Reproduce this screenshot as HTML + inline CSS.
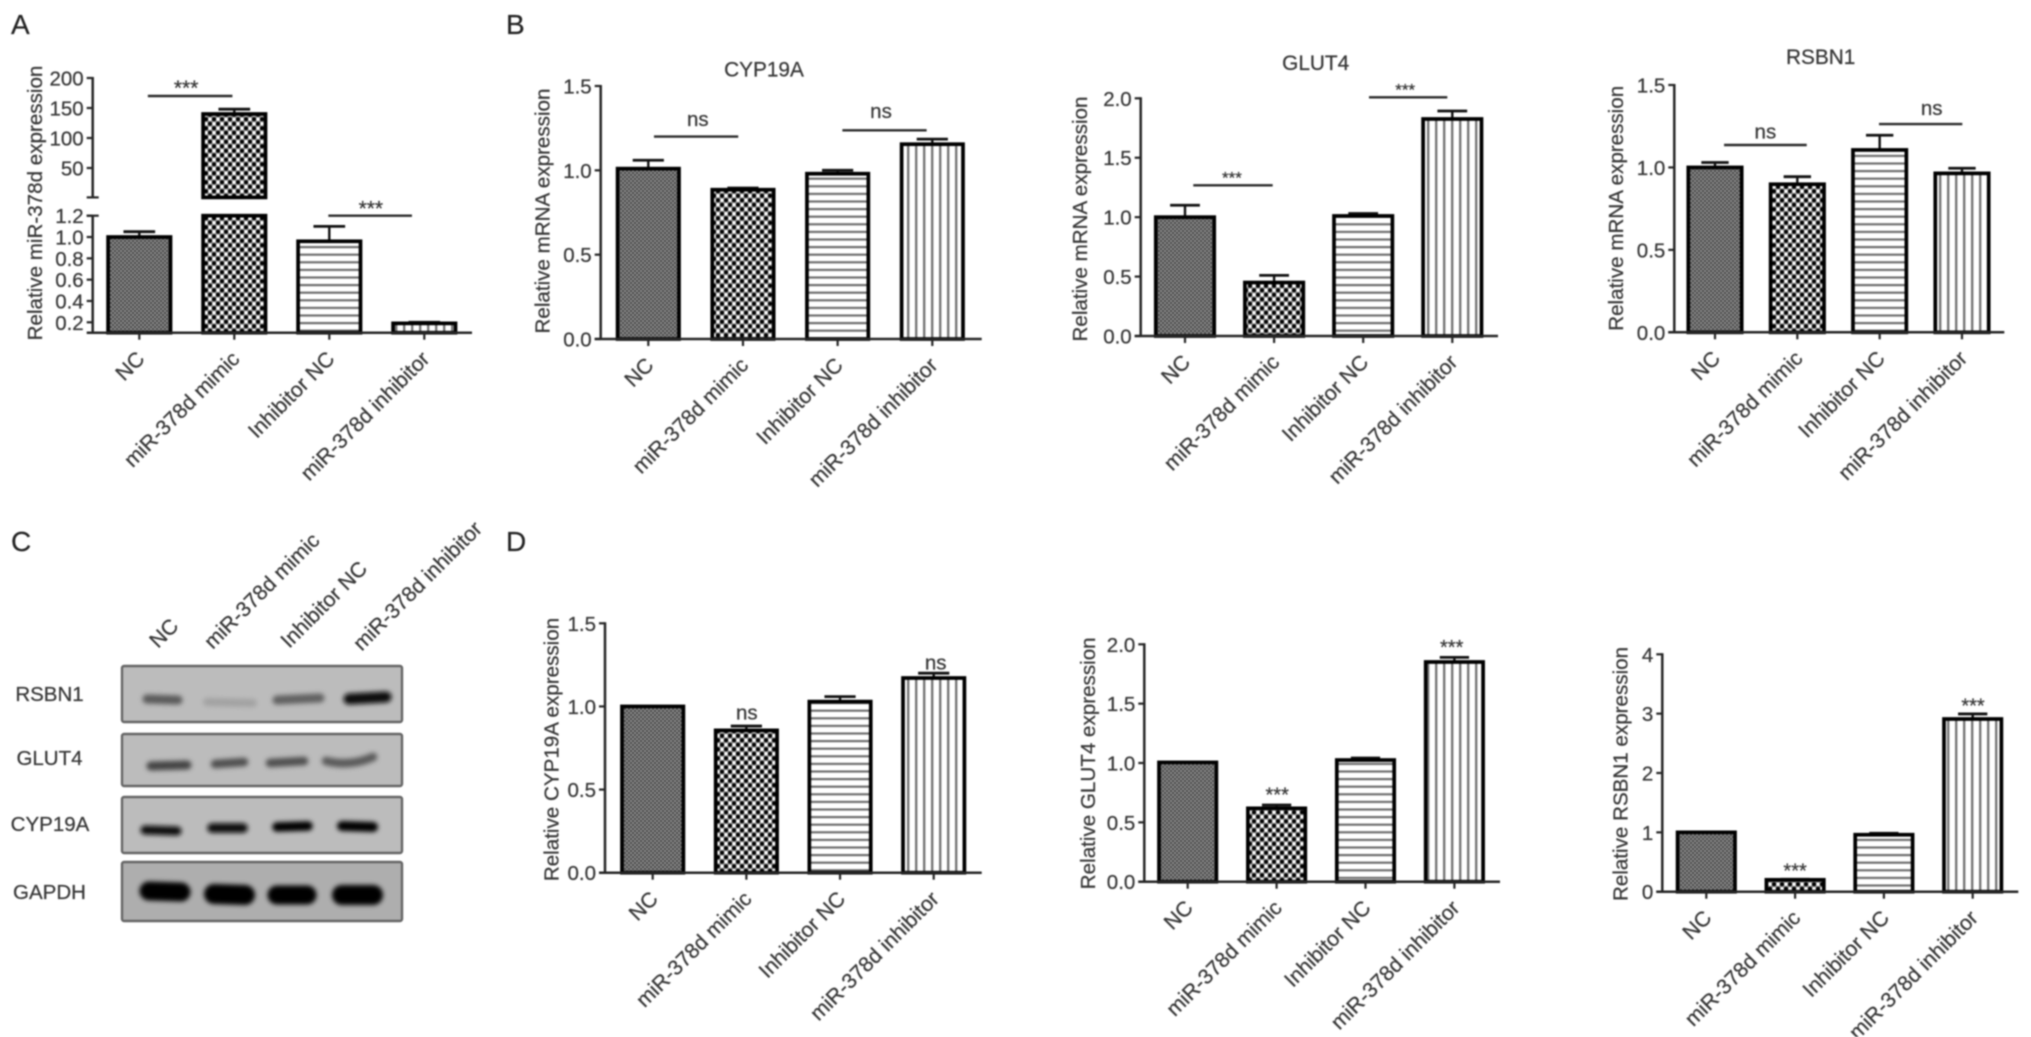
<!DOCTYPE html>
<html lang="en">
<head>
<meta charset="utf-8">
<title>miR-378d expression figure</title>
<style>
html,body{margin:0;padding:0;background:#fff;width:2031px;height:1037px;overflow:hidden}
svg{position:absolute;left:0;top:0;filter:blur(.7px)}
text{font-family:"Liberation Sans",Arial,sans-serif;fill:#383838;stroke:#383838;stroke-width:.25}
</style>
</head>
<body>
<svg id="figure" width="2031" height="1037" viewBox="0 0 2031 1037" xmlns="http://www.w3.org/2000/svg">
<defs>
<pattern id="fill-solid" width="4" height="4" patternUnits="userSpaceOnUse"><rect width="4" height="4" fill="#6a6a6a"/><rect width="2" height="2" fill="#4a4a4a"/><rect x="2" y="2" width="2" height="2" fill="#4a4a4a"/><rect x="2" width="2" height="2" fill="#8c8c8c"/><rect y="2" width="2" height="2" fill="#8c8c8c"/></pattern>
<pattern id="fill-dots" width="8" height="9" patternUnits="userSpaceOnUse"><rect width="8" height="9" fill="#8e8e8e"/><circle cx="2" cy="2.25" r="1.7" fill="#fff"/><circle cx="6" cy="6.75" r="1.7" fill="#fff"/><circle cx="6" cy="2.25" r="2" fill="#000"/><circle cx="2" cy="6.75" r="2" fill="#000"/></pattern>
<pattern id="fill-hlines" width="8" height="7.6" patternUnits="userSpaceOnUse"><rect width="8" height="7.6" fill="#fff"/><rect y="2.8" width="8" height="2.2" fill="#6e6e6e"/></pattern>
<pattern id="fill-vlines" width="8" height="8" patternUnits="userSpaceOnUse"><rect width="8" height="8" fill="#fff"/><rect x="3" width="2.4" height="8" fill="#777"/></pattern>
<filter id="band-blur" x="-30%" y="-200%" width="160%" height="500%"><feGaussianBlur stdDeviation="2.3"/></filter>
</defs>

<text x="11" y="34" font-size="28" style="fill:#222">A</text>
<text x="506" y="34" font-size="28" style="fill:#222">B</text>
<text x="11" y="551" font-size="28" style="fill:#222">C</text>
<text x="506" y="551" font-size="28" style="fill:#222">D</text>

<g>
  <g font-size="21.2" text-anchor="start">
    <text transform="translate(158 649) rotate(-45)">NC</text>
    <text transform="translate(212.7 650) rotate(-45)">miR-378d mimic</text>
    <text transform="translate(289.3 649) rotate(-45)">Inhibitor NC</text>
    <text transform="translate(361.7 651.7) rotate(-45)">miR-378d inhibitor</text>
  </g>
  <g font-size="20.5" text-anchor="middle">
    <text x="49.5" y="701">RSBN1</text>
    <text x="49.5" y="765">GLUT4</text>
    <text x="50" y="831">CYP19A</text>
    <text x="49.5" y="899">GAPDH</text>
  </g>
  <g fill="#bcbcbc" stroke="#666" stroke-width="2.4">
    <rect x="122" y="666" width="280" height="56" rx="2"/>
    <rect x="122" y="734" width="280" height="52" rx="2"/>
    <rect x="122" y="797" width="280" height="56" rx="2"/>
    <rect x="122" y="862" width="280" height="59" rx="2" fill="#aeaeae"/>
  </g>
  <g filter="url(#band-blur)" fill="none" stroke-linecap="round">
    <path d="M147 699L178 700" stroke="#5a5a5a" stroke-width="9"/>
    <path d="M207 702L253 703" stroke="#a2a2a2" stroke-width="8"/>
    <path d="M277 700L320 698" stroke="#606060" stroke-width="9"/>
    <path d="M349 699L386 697" stroke="#0c0c0c" stroke-width="11"/>
    <path d="M151 766L187 765" stroke="#454545" stroke-width="9"/>
    <path d="M215 764L244 762" stroke="#505050" stroke-width="8.5"/>
    <path d="M270 763L304 761" stroke="#505050" stroke-width="8.5"/>
    <path d="M326 761Q350 767 373 757" stroke="#5a5a5a" stroke-width="8.5"/>
    <path d="M145 830L177 831" stroke="#0c0c0c" stroke-width="9"/>
    <path d="M212 828L243 828" stroke="#0c0c0c" stroke-width="9.5"/>
    <path d="M277 827L308 826" stroke="#050505" stroke-width="9.5"/>
    <path d="M342 826L373 827" stroke="#050505" stroke-width="10"/>
    <path d="M149 891L181 892" stroke="#000" stroke-width="19"/>
    <path d="M214 894L245 895" stroke="#000" stroke-width="20"/>
    <path d="M277 895L307 895" stroke="#000" stroke-width="19"/>
    <path d="M342 895L373 895" stroke="#000" stroke-width="20"/>
  </g>
</g>
</svg>

<script>
const categories = ["NC", "miR-378d mimic", "Inhibitor NC", "miR-378d inhibitor"];

const aLowerTicks = ["0.2", "0.4", "0.6", "0.8", "1.0", "1.2"];
const aUpperTicks = ["50", "100", "150", "200"];
const aValues = [1.0, 140, 0.96, 0.19];
const aErrorTops = [1.05, 148, 1.1, 0.2];
const aSigLevels = [170, 1.2];

const b1Ticks = ["0.0", "0.5", "1.0", "1.5"];
const b1Values = [1.01, 0.885, 0.98, 1.155];
const b1ErrorTops = [1.06, 0.895, 1.0, 1.185];
const b1SigLevels = [1.2, 1.237];

const b2Ticks = ["0.0", "0.5", "1.0", "1.5", "2.0"];
const b2Values = [1.0, 0.45, 1.01, 1.826];
const b2ErrorTops = [1.1, 0.51, 1.03, 1.893];
const b2SigLevels = [1.268, 2.008];

const b3Ticks = ["0.0", "0.5", "1.0", "1.5"];
const b3Values = [1.0, 0.898, 1.106, 0.964];
const b3ErrorTops = [1.03, 0.944, 1.195, 0.995];
const b3SigLevels = [1.136, 1.263];

const d1Ticks = ["0.0", "0.5", "1.0", "1.5"];
const d1Values = [1.0, 0.856, 1.029, 1.171];
const d1ErrorTops = [1.0, 0.882, 1.059, 1.2];
const d1Marks = ["", "ns", "", "ns"];

const d2Ticks = ["0.0", "0.5", "1.0", "1.5", "2.0"];
const d2Values = [1.005, 0.618, 1.025, 1.851];
const d2ErrorTops = [1.005, 0.646, 1.042, 1.89];
const d2Marks = ["", "***", "", "***"];

const d3Ticks = ["0", "1", "2", "3", "4"];
const d3Values = [1.0, 0.2, 0.96, 2.91];
const d3ErrorTops = [1.0, 0.21, 0.985, 2.995];
const d3Marks = ["", "***", "", "***"];

const NS = "http://www.w3.org/2000/svg";
const root = document.getElementById("figure");
const fills = ["url(#fill-solid)", "url(#fill-dots)", "url(#fill-hlines)", "url(#fill-vlines)"];
const fillNames = ["nc", "mimic", "inhibitor-nc", "inhibitor"];
const AXIS = "#262626";

function addGroup(parent, name) {
  const el = document.createElementNS(NS, "g");
  
  
  parent.appendChild(el);
  return el;
}
function addLine(parent, name, x1, y1, x2, y2, width, color) {
  const el = document.createElementNS(NS, "line");
  
  
  el.setAttribute("x1", x1);
  el.setAttribute("y1", y1);
  el.setAttribute("x2", x2);
  el.setAttribute("y2", y2);
  el.setAttribute("stroke", color || AXIS);
  el.setAttribute("stroke-width", width);
  parent.appendChild(el);
  return el;
}
function addText(parent, name, str, x, y, size, anchor, rotate) {
  const el = document.createElementNS(NS, "text");
  
  
  el.setAttribute("font-size", size);
  el.setAttribute("text-anchor", anchor);
  if (rotate) {
    el.setAttribute("transform", "translate(" + x + " " + y + ") rotate(" + rotate + ")");
  } else {
    el.setAttribute("x", x);
    el.setAttribute("y", y);
  }
  el.textContent = str;
  parent.appendChild(el);
  return el;
}
function addBarRect(parent, name, x, y, w, h, fill) {
  const el = document.createElementNS(NS, "rect");
  
  
  el.setAttribute("x", x);
  el.setAttribute("y", y);
  el.setAttribute("width", w);
  el.setAttribute("height", Math.max(0, h));
  el.setAttribute("fill", fill);
  el.setAttribute("stroke", "#000");
  el.setAttribute("stroke-width", 3.7);
  parent.appendChild(el);
  return el;
}

function linearScale(v0, y0, v1, y1) {
  return function (v) { return y0 + (v - v0) * (y1 - y0) / (v1 - v0); };
}

function drawXAxis(g, p) {
  addLine(g, "x-axis", p.axisX - 6, p.y0, p.axisEnd, p.y0, 2.5);
  categories.forEach(function (c, i) {
    const cx = p.x0 + i * p.step;
    addLine(g, "x-tick-" + fillNames[i], cx, p.y0, cx, p.y0 + 7, 2.2);
    addText(g, "x-tick-label-" + fillNames[i], c, cx + 6.5, p.y0 + 27.5, 21.2, "end", -45);
  });
}

function drawYTicks(g, p, labels, scale, suffix) {
  labels.forEach(function (t) {
    const y = scale(parseFloat(t));
    addLine(g, "y-tick-" + suffix + t, p.axisX - 6, y, p.axisX, y, 2.2);
    addText(g, "y-tick-label-" + suffix + t, t, p.axisX - 9, y + 7.5, 20.5, "end");
  });
}

function drawErrorBar(g, name, cx, capW, yTop, yCap) {
  if (Math.abs(yTop - yCap) < 0.5) return;
  addLine(g, name + "-error-stem", cx, yTop, cx, yCap, 2.4, "#111");
  addLine(g, name + "-error-cap", cx - capW / 2, yCap, cx + capW / 2, yCap, 2.8, "#111");
}

function drawSignificance(g, p, levels, scaleFor) {
  p.sig.forEach(function (s, i) {
    const y = scaleFor(i)(levels[i]);
    const x1 = p.x0 + s.from * p.step;
    const x2 = p.x0 + s.to * p.step;
    addLine(g, "significance-line-" + (i + 1), x1, y, x2, y, 2.4, "#2a2a2a");
    addText(g, "significance-label-" + (i + 1), s.text, (x1 + x2) / 2 + s.dx, y + s.dy, s.size, "middle");
  });
}

function drawStandardPanel(p, ticks, values, errorTops, levels, marks) {
  const g = addGroup(root, p.name);
  const vMax = parseFloat(ticks[ticks.length - 1]);
  const scale = linearScale(0, p.y0, vMax, p.yTop);
  if (p.title) addText(g, "chart-title", p.title, p.titleX, p.titleY - 0.5, 20.8, "middle");
  addText(g, "y-axis-title", p.yTitle, p.yTitleX, p.yTitleY, 20.6, "middle", -90);
  categories.forEach(function (c, i) {
    const cx = p.x0 + i * p.step;
    const name = "bar-" + fillNames[i];
    drawErrorBar(g, name, cx, p.barW * 0.48, scale(values[i]), scale(errorTops[i]));
    addBarRect(g, name, cx - p.barW / 2 + 1.8, scale(values[i]), p.barW - 3.6, p.y0 - scale(values[i]), fills[i]);
  });
  addLine(g, "y-axis", p.axisX, p.yTop - 1, p.axisX, p.y0, 2.5);
  drawYTicks(g, p, ticks, scale, "");
  drawXAxis(g, p);
  if (levels) drawSignificance(g, p, levels, function () { return scale; });
  if (marks) {
    marks.forEach(function (m, i) {
      if (!m) return;
      const cx = p.x0 + i * p.step + p.markDx[i];
      addText(g, "significance-mark-" + fillNames[i], m, cx, scale(errorTops[i]) + p.markDy[i], m === "ns" ? 20.5 : 20, "middle");
    });
  }
}

function drawPanelA() {
  const p = {
    axisX: 92.7, axisEnd: 472, y0: 332.7, x0: 139.3, step: 95, barW: 66,
    sig: [
      { from: 0.09, to: 0.98, text: "***", size: 21, dx: -4, dy: -1 },
      { from: 1.99, to: 2.87, text: "***", size: 21, dx: 0.7, dy: 0 }
    ]
  };
  const g = addGroup(root, "panel-a-mir378d-chart");
  const lower = linearScale(0.2, 322.3, 1.2, 215.7);
  const upper = linearScale(50, 168, 200, 78);
  const breakLowTop = lower(1.2);
  const breakHighBottom = 197.4;
  addText(g, "y-axis-title", "Relative miR-378d expression", 42, 203, 20.6, "middle", -90);
  categories.forEach(function (c, i) {
    const cx = p.x0 + i * p.step;
    const name = "bar-" + fillNames[i];
    const x = cx - p.barW / 2 + 1.8;
    const w = p.barW - 3.6;
    if (aValues[i] > 1.2) {
      drawErrorBar(g, name, cx, p.barW * 0.48, upper(aValues[i]), upper(aErrorTops[i]));
      addBarRect(g, name + "-upper", x, upper(aValues[i]), w, breakHighBottom - upper(aValues[i]), fills[i]);
      addBarRect(g, name + "-lower", x, breakLowTop, w, p.y0 - breakLowTop, fills[i]);
    } else {
      drawErrorBar(g, name, cx, p.barW * 0.48, lower(aValues[i]), lower(aErrorTops[i]));
      addBarRect(g, name, x, lower(aValues[i]), w, p.y0 - lower(aValues[i]), fills[i]);
    }
  });
  addLine(g, "y-axis-upper", p.axisX, upper(200) - 1, p.axisX, breakHighBottom, 2.5);
  addLine(g, "y-axis-lower", p.axisX, breakLowTop, p.axisX, p.y0, 2.5);
  addLine(g, "y-axis-break-tick-upper", p.axisX - 6, breakHighBottom, p.axisX + 6, breakHighBottom, 2.2);
  addLine(g, "y-axis-break-tick-lower", p.axisX - 6, breakLowTop, p.axisX + 6, breakLowTop, 2.2);
  drawYTicks(g, p, aUpperTicks, upper, "upper-");
  drawYTicks(g, p, aLowerTicks, lower, "lower-");
  drawXAxis(g, p);
  drawSignificance(g, p, aSigLevels, function (i) { return i === 0 ? upper : lower; });
}

drawPanelA();

drawStandardPanel({
  name: "panel-b-cyp19a-chart", title: "CYP19A", titleX: 764, titleY: 77,
  yTitle: "Relative mRNA expression", yTitleX: 549.5, yTitleY: 211,
  axisX: 600.7, axisEnd: 981.7, y0: 339, yTop: 86, x0: 648.3, step: 94.67, barW: 65,
  sig: [
    { from: 0.06, to: 0.95, text: "ns", size: 20.5, dx: 1.7, dy: -10.7 },
    { from: 2.05, to: 2.94, text: "ns", size: 20.5, dx: -3.5, dy: -12.3 }
  ]
}, b1Ticks, b1Values, b1ErrorTops, b1SigLevels);

drawStandardPanel({
  name: "panel-b-glut4-chart", title: "GLUT4", titleX: 1315.7, titleY: 70.5,
  yTitle: "Relative mRNA expression", yTitleX: 1087, yTitleY: 219,
  axisX: 1140.7, axisEnd: 1498, y0: 336, yTop: 98.3, x0: 1185, step: 89.1, barW: 62,
  sig: [
    { from: 0.093, to: 0.984, text: "***", size: 17, dx: -1, dy: -2 },
    { from: 2.065, to: 2.944, text: "***", size: 17, dx: -3, dy: -1.6 }
  ]
}, b2Ticks, b2Values, b2ErrorTops, b2SigLevels);

drawStandardPanel({
  name: "panel-b-rsbn1-chart", title: "RSBN1", titleX: 1820.7, titleY: 64.5,
  yTitle: "Relative mRNA expression", yTitleX: 1623, yTitleY: 208.3,
  axisX: 1674.3, axisEnd: 2004.3, y0: 332.3, yTop: 85, x0: 1715, step: 82.33, barW: 57,
  sig: [
    { from: 0.11, to: 1.114, text: "ns", size: 20.5, dx: 0, dy: -6.6 },
    { from: 1.992, to: 3.004, text: "ns", size: 20.5, dx: 11, dy: -9.3 }
  ]
}, b3Ticks, b3Values, b3ErrorTops, b3SigLevels);

drawStandardPanel({
  name: "panel-d-cyp19a-chart",
  yTitle: "Relative CYP19A expression", yTitleX: 558.7, yTitleY: 749.5,
  axisX: 605, axisEnd: 981.7, y0: 872.7, yTop: 623.3, x0: 652.7, step: 93.67, barW: 65,
  markDx: [0, 0.5, 0, 2], markDy: [0, -6.6, 0, -3.6]
}, d1Ticks, d1Values, d1ErrorTops, null, d1Marks);

drawStandardPanel({
  name: "panel-d-glut4-chart",
  yTitle: "Relative GLUT4 expression", yTitleX: 1095, yTitleY: 763.3,
  axisX: 1144.3, axisEnd: 1500, y0: 881.7, yTop: 644.3, x0: 1187.7, step: 88.9, barW: 61,
  markDx: [0, 0.6, 0, -2.7], markDy: [0, -3.6, 0, -3.3]
}, d2Ticks, d2Values, d2ErrorTops, null, d2Marks);

drawStandardPanel({
  name: "panel-d-rsbn1-chart",
  yTitle: "Relative RSBN1 expression", yTitleX: 1627.7, yTitleY: 774,
  axisX: 1662.3, axisEnd: 2018.3, y0: 891.7, yTop: 654.3, x0: 1706.3, step: 88.8, barW: 61,
  markDx: [0, 0, 0, 0.3], markDy: [0, -1.8, 0, -1.6]
}, d3Ticks, d3Values, d3ErrorTops, null, d3Marks);
</script>
</body>
</html>
